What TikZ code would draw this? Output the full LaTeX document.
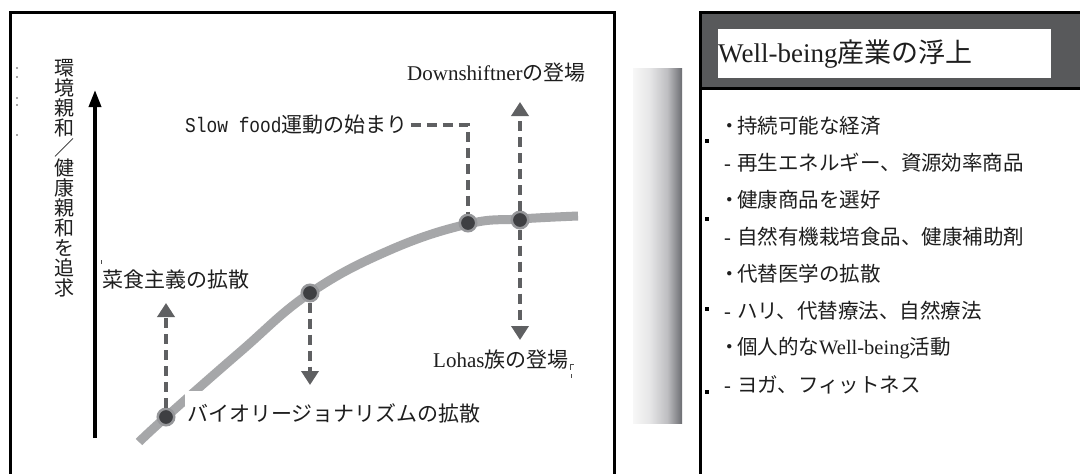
\documentclass[tikz,border=0pt]{standalone}
\usepackage{fontspec}
\setmainfont{Liberation Serif}
\newfontfamily\cjk{Noto Sans CJK JP}
\newfontfamily\monof{Liberation Mono}[FakeStretch=0.85]
\usetikzlibrary{arrows.meta}
\definecolor{hdr}{RGB}{88,89,91}
\definecolor{txt}{RGB}{30,30,30}
\definecolor{dashc}{RGB}{95,96,98}
\definecolor{curvec}{RGB}{166,167,169}
\definecolor{dotin}{RGB}{62,63,66}
\definecolor{dotring}{RGB}{150,151,154}
\definecolor{barA}{RGB}{247,247,247}
\definecolor{barB}{RGB}{230,230,231}
\definecolor{barC}{RGB}{190,190,193}
\definecolor{barend}{RGB}{108,109,114}
\pgfdeclarehorizontalshading{barshade}{100bp}{color(0bp)=(barA); color(25bp)=(barA); color(42bp)=(barB); color(60bp)=(barC); color(75bp)=(barend); color(100bp)=(barend)}
\tikzset{
  frame/.style={draw=black, line width=3pt},
  lbl/.style={anchor=west, inner sep=0pt, text=txt, font=\fontsize{21}{25}\selectfont},
  li/.style={anchor=west, inner sep=0pt, text=txt, font=\fontsize{20.5}{24}\selectfont\cjk},
  dl/.style={draw=dashc, line width=3.5pt, dash pattern=on 10pt off 6pt},
  dtip/.style={dl, -{Triangle[width=17pt,length=14pt]}, color=dashc},
  dotn/.style={circle, fill=dotin, draw=dotring, line width=2.5pt, minimum size=16.5pt, inner sep=0pt},
  curveline/.style={draw=curvec, line width=9pt},
  axisline/.style={draw=black, line width=3.5pt, -{Triangle[width=12pt,length=17pt]}},
  sq/.style={fill=black, minimum size=4.5pt, inner sep=0pt},
}
\begin{document}
\begin{tikzpicture}[x=1pt,y=-1pt]
\useasboundingbox (0,0) rectangle (1080,474);
\clip (0,0) rectangle (1080,474);
\fill[white] (0,0) rectangle (1080,474);

% ---------- left panel ----------
\draw[frame] (10,12) rectangle (614,520);

% tiny marks at left edge
\foreach \yy in {68,77,98,105,135} \fill[black!70] (17,\yy) circle (0.8);

% vertical axis label
\node[inner sep=0pt, text=txt, align=center, font=\fontsize{20}{20}\selectfont\cjk] (ylab) at (64,178)
  {環\\境\\親\\和\\／\\健\\康\\親\\和\\を\\追\\求};

% axis
\coordinate (ax0) at (95,438);
\coordinate (ax1) at (95,90);
\draw[axisline] (ax0) -- (ax1);

% curve
\draw[curveline] plot[smooth, tension=0.7] coordinates {(139,442) (166,417) (240,352) (310,293) (390,250) (468,224) (520,219) (578,216)};

% dots
\node[dotn] (A) at (166,417) {};
\node[dotn] (B) at (310,293) {};
\node[dotn] (C) at (468,223) {};
\node[dotn] (D) at (520,220) {};

% labels
\node[lbl] (down) at (407,73) {Downshiftner{\cjk の登場}};
\node[lbl] (slow) at (185,125) {{\monof Slow food}{\cjk 運動の始まり}};
\node[lbl] (veg) at (102,280) {\cjk 菜食主義の拡散};
\node[lbl, fill=white, inner xsep=2pt, inner ysep=12pt] (bio) at (185,413) {\cjk バイオリージョナリズムの拡散};
\node[lbl] (lohas) at (433,360) {Lohas{\cjk 族の登場}};

% small marks
\draw[black!70, line width=0.7pt] (101,260) -- (101,264);
\draw[black!70, line width=0.7pt] (570,364) -- (574,364) (570,364) -- (570,370) (571,374) -- (571,378);

% connectors
\coordinate (Atip) at (166,303);
\coordinate (Btip) at (310,385);
\coordinate (Dup) at (520,102);
\coordinate (Ddown) at (520,340);
\draw[dtip] (A.north) -- (Atip);
\draw[dtip] (B.south) -- (Btip);
\draw[dl, shorten <=3pt] (slow.east) -- (slow.east -| C) -- (C.north);
\draw[dtip] (D.north) -- (Dup);
\draw[dtip] (D.south) -- (Ddown);

% ---------- gradient bar ----------
\shade[shading=barshade] (633,68) rectangle (682,423);

% ---------- right panel ----------
\fill[hdr] (700,12) rectangle (1095,88);
\draw[frame] (700,520) -- (700,12) -- (1095,12);
\draw[frame] (700,88) -- (1095,88);
\node[fill=white, anchor=north west, inner sep=0pt, minimum width=333pt, minimum height=49pt, text width=333pt, align=left, text=txt, font=\fontsize{27}{30}\selectfont] (title) at (718,29) {Well-being{\cjk 産業の浮上}};

\node[li] (l1) at (722,126) {\makebox[15pt][c]{・}持続可能な経済};
\node[li] (l2) at (722,163) {\makebox[15pt][l]{\hspace{2pt}\rmfamily -}再生エネルギー、資源効率商品};
\node[li] (l3) at (722,200) {\makebox[15pt][c]{・}健康商品を選好};
\node[li] (l4) at (722,237) {\makebox[15pt][l]{\hspace{2pt}\rmfamily -}自然有機栽培食品、健康補助剤};
\node[li] (l5) at (722,274) {\makebox[15pt][c]{・}代替医学の拡散};
\node[li] (l6) at (722,311) {\makebox[15pt][l]{\hspace{2pt}\rmfamily -}ハリ、代替療法、自然療法};
\node[li] (l7) at (722,348) {\makebox[15pt][c]{・}個人的な{\rmfamily Well-being}活動};
\node[li] (l8) at (722,385) {\makebox[15pt][l]{\hspace{2pt}\rmfamily -}ヨガ、フィットネス};

\node[sq] (s1) at (707,141) {};
\node[sq] (s2) at (707,219) {};
\node[sq] (s3) at (707,309) {};
\node[sq] (s4) at (707,392) {};
\end{tikzpicture}
\end{document}
